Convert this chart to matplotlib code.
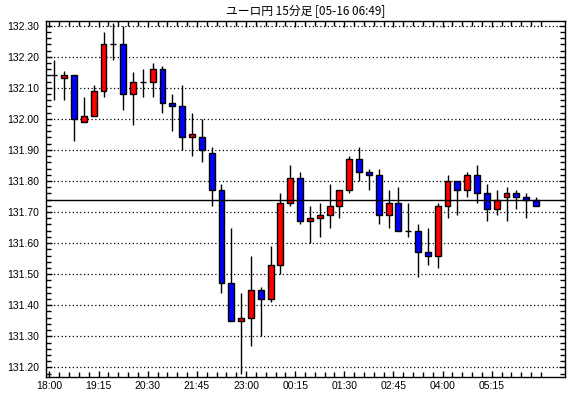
import matplotlib
matplotlib.use("Agg")
import matplotlib.pyplot as plt
from matplotlib.patches import Rectangle
from matplotlib.ticker import MultipleLocator, FixedLocator, FixedFormatter

title = "ユーロ円 15分足 [05-16 06:49]"
time_labels = ["18:00", "19:15", "20:30", "21:45", "23:00",
               "00:15", "01:30", "02:45", "04:00", "05:15"]

opens = [132.14, 132.13, 132.14, 131.99, 132.01, 132.09, 132.24, 132.24, 132.08, 132.12,
         132.12, 132.16, 132.05, 132.04, 131.94, 131.94, 131.89, 131.77, 131.47, 131.35,
         131.36, 131.45, 131.42, 131.53, 131.73, 131.81, 131.67, 131.68, 131.69, 131.72,
         131.77, 131.87, 131.83, 131.82, 131.69, 131.73, 131.64, 131.64, 131.57, 131.56,
         131.72, 131.80, 131.77, 131.82, 131.76, 131.71, 131.75, 131.76, 131.75, 131.74]
highs = [132.19, 132.154, 132.14, 132.07, 132.11, 132.28, 132.31, 132.30, 132.15, 132.16,
         132.18, 132.17, 132.08, 132.11, 132.02, 132.00, 131.91, 131.79, 131.65, 131.44,
         131.56, 131.46, 131.59, 131.76, 131.85, 131.83, 131.72, 131.73, 131.79, 131.77,
         131.88, 131.91, 131.84, 131.84, 131.77, 131.78, 131.73, 131.66, 131.65, 131.73,
         131.82, 131.80, 131.83, 131.85, 131.79, 131.77, 131.78, 131.77, 131.76, 131.75]
lows = [132.06, 132.06, 131.93, 131.99, 132.01, 132.07, 132.19, 132.03, 131.98, 132.07,
        132.07, 132.02, 131.96, 131.90, 131.88, 131.86, 131.72, 131.44, 131.35, 131.18,
        131.27, 131.30, 131.41, 131.50, 131.72, 131.66, 131.60, 131.62, 131.65, 131.68,
        131.76, 131.80, 131.77, 131.66, 131.65, 131.64, 131.62, 131.49, 131.53, 131.52,
        131.68, 131.69, 131.75, 131.73, 131.67, 131.69, 131.67, 131.71, 131.68, 131.72]
closes = [132.14, 132.14, 132.00, 132.01, 132.09, 132.24, 132.24, 132.08, 132.12, 132.12,
          132.16, 132.05, 132.04, 131.94, 131.95, 131.90, 131.77, 131.47, 131.35, 131.36,
          131.45, 131.42, 131.53, 131.73, 131.81, 131.67, 131.68, 131.69, 131.72, 131.77,
          131.87, 131.83, 131.82, 131.69, 131.73, 131.64, 131.64, 131.57, 131.56, 131.72,
          131.80, 131.77, 131.82, 131.76, 131.71, 131.74, 131.76, 131.75, 131.74, 131.72]
current_price = 131.739

fig = plt.figure(figsize=(5.70, 3.98), dpi=100)
ax = fig.add_axes([46/570, 1 - 377/398, (565 - 46)/570, (377 - 21)/398])

body_w = 0.6
for i, (o, h, l, c) in enumerate(zip(opens, highs, lows, closes)):
    x = i + 0.5
    ax.vlines(x, l, h, color="black", linewidth=1.0, zorder=3)
    if abs(c - o) < 1e-9:
        ax.hlines(o, x - body_w/2, x + body_w/2, color="black", linewidth=1.0, zorder=4)
    else:
        col = "#ff0000" if c > o else "#0000ff"
        bottom = min(o, c)
        ax.add_patch(Rectangle((x - body_w/2, bottom), body_w, abs(c - o),
                               facecolor=col, edgecolor="black", linewidth=1.0, zorder=4))

ax.axhline(current_price, color="black", linewidth=1.0, zorder=5)

ax.set_xlim(-0.35, 52.45)
ax.set_ylim(131.169, 132.315)

for yv in [131.2 + 0.1*k for k in range(12)]:
    ax.axhline(yv, color="black", linewidth=0.9, linestyle=(0, (1, 2)), zorder=1)

ax.yaxis.set_major_locator(FixedLocator([131.2 + 0.1*k for k in range(12)]))
ax.yaxis.set_major_formatter(FixedFormatter(["%.2f" % (131.2 + 0.1*k) for k in range(12)]))
ax.yaxis.set_minor_locator(MultipleLocator(0.02))
ax.xaxis.set_major_locator(FixedLocator([5*k for k in range(len(time_labels))]))
ax.xaxis.set_major_formatter(FixedFormatter(time_labels))
ax.xaxis.set_minor_locator(FixedLocator(list(range(0, 51))))

ax.tick_params(axis="both", which="both", direction="in", top=True, right=True,
               labelsize=7.5, width=1.0, color="black")
ax.tick_params(axis="both", which="major", length=4)
ax.tick_params(axis="both", which="minor", length=3.5)
ax.tick_params(axis="y", which="major", pad=5)
ax.tick_params(axis="x", which="major", pad=3)
for lab in ax.get_xticklabels() + ax.get_yticklabels():
    lab.set_fontfamily("Liberation Sans")

for sp in ax.spines.values():
    sp.set_linewidth(1.0)
    sp.set_color("black")

fig.text(305.5/570, 1 - 11.5/398, title, ha="center", va="center", fontsize=8.5,
         family=["Noto Sans CJK JP", "DejaVu Sans"])

fig.savefig("out.png", dpi=100)
